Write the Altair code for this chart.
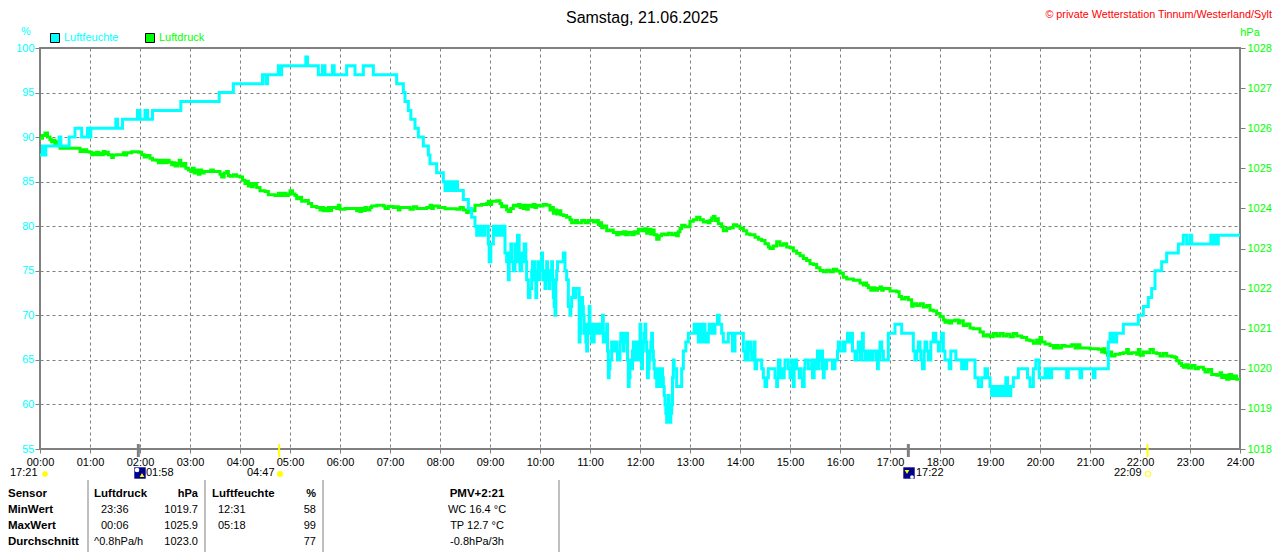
import altair as alt
import pandas as pd

FONT = "Liberation Sans"
CYAN = "#00ffff"
GREEN = "#00ff00"
GRAY = "#808080"

# (minute of day, percent)
humidity_night = [(0,88),(3,89),(5,88),(7,89),(20,89),(23,90),(25,89),(34,89),(35,90),(41,90),(42,91),(48,91),(50,90),(56,90),(57,91),(59,90),(61,91),(90,91),(91,92),(93,91),(98,91),(99,92),(115,92),(117,93),(120,92),(124,92),(126,93),(129,92),(133,92),(135,93),(168,93),(169,94),(214,94),(215,95),(231,95),(232,96),(265,96),(267,97),(270,97),(271,96),(273,97),(285,97),(286,98),(288,97),(290,98),(318,98),(319,99),(321,98),(330,98),(334,97),(337,97),(339,98),(342,97),(349,97),(351,98),(353,97),(366,97),(368,98),(376,98),(378,97),(386,97),(388,98),(398,98),(400,97),(426,97),(428,96),(436,95),(438,94),(442,93),(445,92),(450,91),(454,90),(460,89),(466,88)]
humidity_morning = [(468,87),(476,86),(484,85),(486,84),(487,85),(489,84),(491,85),(493,84),(495,85),(497,84),(499,85),(501,84),(508,83),(514,82),(518,81),(522,80),(524,79),(526,80),(528,79),(530,80),(532,79),(534,80),(536,80),(538,78),(539,76),(541,78),(544,80),(546,79),(548,80),(550,79),(552,80),(554,79),(556,80),(558,77),(560,76),(562,74),(563,77),(565,78),(566,76),(568,75),(570,78),(571,76),(573,79),(575,77),(576,75),(578,77),(580,76),(581,78),(583,76),(584,74),(586,72),(588,73),(590,75),(591,76),(592,74),(593,76),(594,74),(595,72),(596,74),(597,75),(598,76),(599,74),(600,75),(601,76),(602,77),(603,75),(604,74),(605,74),(606,73),(607,75),(608,76),(609,75),(610,74),(611,73),(612,75),(613,74),(614,76),(615,74),(616,72),(617,71),(618,70),(619,74),(620,75),(621,76),(623,76),(626,76),(628,77),(630,75),(632,74),(634,71),(636,70),(637,71),(638,72),(640,73),(642,72),(643,73),(646,73),(647,67),(648,68),(649,70),(650,72),(651,71),(652,70),(653,68),(654,69),(655,67),(656,66),(657,68),(658,69),(659,71),(660,69),(661,68),(662,67),(663,69),(664,67),(665,69),(666,68),(667,69),(669,68),(671,69),(673,68),(675,70),(676,67),(678,68),(680,69),(681,66),(682,63),(683,64),(684,65),(686,67),(688,66),(689,67),(690,66),(691,67),(692,66),(693,65),(694,66),(695,65),(696,67),(697,68),(698,67),(699,68),(700,66),(701,67),(702,68),(703,67),(704,68),(705,65),(706,62),(707,63),(708,64),(709,65),(710,64),(711,66),(712,67),(713,66),(714,65),(715,67),(716,66),(717,67),(718,65),(719,66),(720,69),(721,66),(722,64),(723,66),(724,67),(725,68),(726,69),(727,67),(728,66),(729,63),(730,64),(731,65),(732,66),(733,67),(734,68),(735,66),(736,65),(737,64)]
humidity_noon = [(738,63),(739,64),(740,62),(741,63),(742,64),(743,62),(744,63),(745,62),(746,64),(747,63),(748,62),(749,61),(750,60),(751,59),(752,58),(753,60),(754,61),(755,59),(756,58),(757,59),(758,60),(759,63),(760,65),(761,64),(762,64),(764,62),(768,62),(770,64),(772,66),(775,67),(778,68),(784,68),(785,69),(786,68),(787,69),(788,68),(789,69),(790,67),(791,68),(792,69),(793,67),(794,69),(795,68),(796,67),(797,69),(798,68),(799,67),(800,68),(801,67),(802,68),(803,69),(804,68),(805,69),(806,68),(807,69),(808,68),(810,69),(812,69),(813,70),(815,69),(818,68),(820,67),(824,67),(826,68),(828,68),(831,66),(834,68),(838,68),(842,68),(844,66),(846,65),(847,66),(848,67),(849,65),(850,66),(851,67),(853,66),(854,65),(855,66),(857,67),(858,64),(860,65),(864,65),(866,64),(868,63),(870,62),(872,63),(874,64),(878,64),(880,64),(882,63),(884,62),(885,63),(886,65),(888,64),(889,63),(890,64),(891,63),(893,64),(894,65),(897,65),(898,64),(900,63),(901,64),(902,65),(903,63),(904,62),(905,64),(906,65),(907,65),(908,64),(910,64),(911,63),(912,64),(913,63),(915,62),(917,64),(918,65),(920,65),(922,64),(924,64),(926,65),(927,63),(929,65),(930,64),(931,64),(932,65),(933,66),(934,64),(935,65),(937,66),(939,64),(940,63),(941,65),(942,64),(944,65),(948,65),(951,64),(954,65),(957,66),(958,67),(960,66),(962,66),(964,67),(965,66),(966,67),(968,67),(969,68),(971,67),(973,68),(975,66),(977,66),(978,65)]
humidity_evening = [(980,66),(982,67),(984,65),(986,67),(987,68),(988,66),(990,65),(991,66),(992,65),(993,66),(994,65),(996,66),(997,65),(998,65),(999,66),(1001,66),(1003,65),(1005,64),(1006,66),(1007,65),(1008,67),(1010,66),(1012,65),(1016,65),(1018,68),(1024,68),(1026,69),(1032,69),(1034,68),(1046,68),(1048,66),(1050,65),(1052,66),(1054,67),(1056,66),(1057,65),(1059,64),(1061,66),(1062,67),(1064,66),(1066,65),(1069,67),(1072,68),(1075,67),(1078,66),(1080,67),(1082,68),(1084,66),(1086,65),(1089,65),(1091,64),(1093,66),(1096,66),(1099,65),(1104,65),(1106,64),(1108,65),(1110,64),(1112,65),(1114,65),(1118,65),(1122,63),(1126,62),(1130,63),(1134,64),(1137,63),(1140,62),(1142,61),(1144,62),(1147,61),(1150,62),(1152,61),(1154,62),(1156,61),(1159,63),(1161,62),(1162,61),(1165,62),(1168,63),(1174,64),(1182,64),(1185,63),(1188,62),(1192,64),(1195,65),(1199,63),(1204,63),(1206,64),(1208,63),(1210,64),(1212,63),(1214,64),(1230,64),(1232,63),(1234,64),(1246,64),(1248,63),(1250,64),(1262,64),(1264,63),(1266,64),(1279,64),(1282,67),(1284,68),(1286,67),(1288,68),(1290,67),(1292,68),(1298,68),(1300,69),(1316,69),(1318,70),(1324,71),(1330,72),(1334,73),(1338,75),(1342,75),(1346,76),(1352,77),(1364,77),(1366,78),(1372,79),(1376,78),(1380,79),(1382,78),(1402,78),(1405,79),(1407,78),(1410,79),(1412,78),(1414,79),(1440,79)]

# (minute of day, hPa)
pressure_night = [(0,1025.75),(3,1025.82),(6,1025.88),(9,1025.78),(12,1025.71),(14,1025.66),(16,1025.7),(18,1025.62),(20,1025.66),(22,1025.56),(24,1025.5),(30,1025.5),(40,1025.5),(46,1025.5),(48,1025.42),(50,1025.46),(52,1025.42),(54,1025.46),(56,1025.41),(60,1025.4),(62,1025.34),(64,1025.38),(66,1025.34),(68,1025.4),(70,1025.34),(72,1025.38),(74,1025.34),(76,1025.42),(78,1025.36),(80,1025.4),(82,1025.34),(84,1025.34),(86,1025.27),(88,1025.33),(92,1025.34),(98,1025.34),(100,1025.39),(102,1025.33),(104,1025.39),(110,1025.41),(118,1025.4),(122,1025.34),(125,1025.28),(128,1025.32),(132,1025.25),(135,1025.21),(140,1025.2),(142,1025.14),(144,1025.2),(146,1025.14),(148,1025.2),(150,1025.14),(152,1025.2),(155,1025.15),(158,1025.09),(160,1025.14),(162,1025.06),(165,1025.12),(167,1025.2),(169,1025.06),(172,1025.12),(175,1025.0),(178,1024.96),(181,1024.92),(183,1025.0),(185,1024.88),(187,1024.96),(190,1024.85),(192,1024.96),(194,1024.88),(197,1024.92),(205,1024.96),(208,1024.92),(214,1024.92),(216,1024.85),(218,1024.78),(221,1024.88),(224,1024.92),(226,1024.82),(228,1024.8),(232,1024.84),(236,1024.8),(240,1024.78),(243,1024.7),(246,1024.62),(248,1024.68),(250,1024.56),(252,1024.62),(254,1024.54),(256,1024.6),(258,1024.62),(260,1024.52),(264,1024.44),(270,1024.42),(274,1024.34),(282,1024.32),(286,1024.38),(289,1024.32),(292,1024.38),(295,1024.32),(298,1024.36),(300,1024.44),(303,1024.36),(306,1024.32),(308,1024.24),(311,1024.28),(314,1024.18),(318,1024.2),(322,1024.12),(326,1024.05),(332,1024.02),(336,1023.96),(338,1024.02),(340,1023.94),(342,1024.0),(344,1023.94),(346,1024.02),(348,1023.95),(350,1024.02),(356,1024.0),(358,1024.08),(360,1023.98),(366,1024.0),(378,1024.0),(380,1023.94),(382,1024.0),(384,1023.92),(386,1024.0),(388,1023.95),(390,1024.02),(392,1023.96),(396,1024.02),(398,1024.06),(404,1024.08),(412,1024.06),(414,1024.0),(418,1024.05),(424,1024.02),(428,1024.04),(430,1023.96),(432,1024.02),(440,1024.02),(444,1023.98),(448,1024.04),(452,1024.0),(460,1024.0),(464,1024.02)]
pressure_day = [(468,1024.08),(470,1024.0),(472,1024.06),(478,1024.02),(486,1023.99),(500,1023.98),(504,1024.02),(508,1023.96),(512,1023.9),(514,1023.98),(518,1023.94),(522,1024.08),(530,1024.1),(536,1024.12),(538,1024.18),(540,1024.1),(542,1024.18),(548,1024.19),(552,1024.12),(554,1024.04),(557,1024.06),(560,1023.96),(562,1023.92),(565,1024.0),(568,1024.08),(572,1024.06),(574,1024.1),(576,1024.02),(578,1024.08),(580,1024.0),(582,1024.08),(584,1023.98),(586,1024.08),(590,1024.04),(592,1024.1),(594,1024.02),(596,1024.08),(600,1024.06),(604,1024.1),(608,1024.08),(612,1023.96),(614,1024.02),(616,1023.88),(618,1023.96),(620,1023.86),(622,1023.94),(625,1023.84),(628,1023.82),(632,1023.78),(636,1023.72),(638,1023.64),(642,1023.7),(645,1023.64),(650,1023.7),(654,1023.64),(658,1023.7),(664,1023.66),(668,1023.7),(670,1023.6),(672,1023.64),(674,1023.52),(676,1023.56),(680,1023.44),(684,1023.46),(688,1023.4),(692,1023.34),(694,1023.4),(697,1023.36),(700,1023.42),(703,1023.34),(706,1023.4),(710,1023.34),(713,1023.42),(716,1023.38),(718,1023.48),(722,1023.44),(725,1023.49),(728,1023.38),(730,1023.48),(733,1023.36),(735,1023.46),(737,1023.34),(740,1023.23),(743,1023.32),(746,1023.36),(750,1023.34),(754,1023.38),(758,1023.34),(762,1023.38),(764,1023.32),(766,1023.42),(768,1023.5),(770,1023.58),(774,1023.54),(778,1023.54),(780,1023.68),(784,1023.72),(788,1023.78),(792,1023.72),(796,1023.66),(800,1023.68),(802,1023.64),(804,1023.7),(806,1023.76),(808,1023.8),(810,1023.7),(812,1023.74),(814,1023.62),(818,1023.54),(820,1023.44),(824,1023.5),(828,1023.52),(832,1023.59),(836,1023.56),(840,1023.5),(844,1023.44),(848,1023.36),(852,1023.34),(858,1023.28),(862,1023.23),(866,1023.2),(870,1023.12),(874,1023.04),(876,1023.0),(880,1023.06),(884,1023.17),(888,1023.08),(892,1023.12),(896,1023.04),(900,1023.02),(904,1022.94),(908,1022.88),(912,1022.82),(916,1022.75),(920,1022.7),(924,1022.62),(928,1022.6),(932,1022.52),(936,1022.45),(940,1022.42),(944,1022.46),(948,1022.42),(952,1022.48),(956,1022.44),(960,1022.38),(964,1022.28),(968,1022.24),(976,1022.21)]
pressure_evening = [(980,1022.21),(984,1022.14),(988,1022.09),(990,1022.14),(992,1022.08),(994,1022.02),(997,1021.96),(1000,1022.02),(1002,1021.96),(1005,1022.0),(1008,1022.04),(1010,1021.96),(1012,1022.0),(1020,1021.94),(1028,1021.92),(1031,1021.8),(1034,1021.74),(1038,1021.78),(1042,1021.72),(1046,1021.56),(1048,1021.62),(1052,1021.58),(1056,1021.62),(1060,1021.54),(1064,1021.58),(1068,1021.46),(1072,1021.44),(1076,1021.38),(1080,1021.3),(1084,1021.22),(1086,1021.16),(1088,1021.2),(1091,1021.14),(1094,1021.2),(1098,1021.22),(1102,1021.14),(1104,1021.2),(1108,1021.08),(1112,1021.12),(1116,1021.02),(1120,1021.0),(1124,1021.0),(1128,1020.92),(1132,1020.82),(1136,1020.85),(1140,1020.8),(1144,1020.88),(1148,1020.82),(1152,1020.88),(1156,1020.82),(1160,1020.86),(1164,1020.8),(1168,1020.88),(1172,1020.82),(1178,1020.78),(1184,1020.72),(1188,1020.7),(1192,1020.64),(1196,1020.72),(1198,1020.64),(1200,1020.78),(1202,1020.67),(1206,1020.62),(1212,1020.58),(1216,1020.52),(1219,1020.58),(1222,1020.52),(1226,1020.58),(1230,1020.56),(1238,1020.6),(1242,1020.52),(1245,1020.6),(1248,1020.52),(1252,1020.52),(1260,1020.5),(1270,1020.49),(1274,1020.42),(1276,1020.5),(1278,1020.4),(1281,1020.34),(1284,1020.42),(1286,1020.32),(1290,1020.36),(1296,1020.38),(1300,1020.4),(1304,1020.48),(1306,1020.38),(1310,1020.4),(1316,1020.36),(1318,1020.48),(1320,1020.34),(1324,1020.42),(1328,1020.4),(1332,1020.48),(1336,1020.4),(1340,1020.38),(1344,1020.32),(1348,1020.38),(1352,1020.32),(1358,1020.3),(1362,1020.28),(1364,1020.2),(1367,1020.14),(1370,1020.08),(1372,1020.04),(1375,1020.1),(1378,1020.02),(1382,1020.08),(1386,1020.0),(1390,1020.04),(1396,1019.99),(1398,1019.92),(1402,1019.98),(1406,1019.86),(1412,1019.84),(1416,1019.9),(1418,1019.78),(1421,1019.84),(1424,1019.74),(1427,1019.86),(1430,1019.76),(1433,1019.82),(1436,1019.74),(1440,1019.72)]

event_labels = [("17:21", 10), ("01:58", 146), ("04:47", 247), ("17:22", 916), ("22:09", 1114)]
sun_events = [287, 1329]
twilight_events = [118, 1042]

legend_items = ["Luftfeuchte", "Luftdruck"]
title_text = "Samstag, 21.06.2025"
credit_text = "\u00a9 private Wetterstation Tinnum/Westerland/Sylt"
sensor_col = ["Sensor", "MinWert", "MaxWert", "Durchschnitt"]
druck_left = ["Luftdruck", "23:36", "00:06", "^0.8hPa/h"]
druck_right = ["hPa", "1019.7", "1025.9", "1023.0"]
feuchte_left = ["Luftfeuchte", "12:31", "05:18", ""]
feuchte_right = ["%", "58", "99", "77"]
pmv_col = ["PMV+2:21", "WC 16.4 \u00b0C", "TP 12.7 \u00b0C", "-0.8hPa/3h"]


def frame(seg, name):
    return pd.DataFrame(seg, columns=["minute", name])


hum = frame(humidity_night + humidity_morning + humidity_noon + humidity_evening, "hum")
pres = frame(pressure_night + pressure_day + pressure_evening, "pres")

x_scale = alt.Scale(domain=[0, 1440], nice=False, zero=False)
x_axis = alt.Axis(
    values=list(range(0, 1441, 60)),
    labelExpr="(floor(datum.value/60)<10?'0':'')+floor(datum.value/60)+':00'",
    title=None, grid=True, gridColor=GRAY, gridDash=[3, 3], gridWidth=1,
    domain=False, tickColor=GRAY, tickSize=4, labelColor="#000000", labelFont=FONT,
    labelFontSize=11, labelPadding=3, labelFlush=False, labelOverlap=False,
)

line_pres = alt.Chart(pres).mark_line(interpolate="step-after", stroke=GREEN, strokeWidth=3, clip=True).encode(
    x=alt.X("minute:Q", scale=x_scale, axis=x_axis),
    y=alt.Y("pres:Q", scale=alt.Scale(domain=[1018, 1028], nice=False, zero=False),
            axis=alt.Axis(orient="right", values=list(range(1018, 1029)), format="d", title=None, grid=False,
                          domain=False, tickColor=GRAY, tickSize=5, labelColor=GREEN,
                          labelFont=FONT, labelFontSize=11, labelPadding=2, labelFlush=False)),
)
line_hum = alt.Chart(hum).mark_line(interpolate="step-after", stroke=CYAN, strokeWidth=3, clip=True).encode(
    x=alt.X("minute:Q", scale=x_scale, axis=x_axis),
    y=alt.Y("hum:Q", scale=alt.Scale(domain=[55, 100], nice=False, zero=False),
            axis=alt.Axis(orient="left", values=list(range(55, 101, 5)), title=None, grid=True, gridColor=GRAY,
                          gridDash=[3, 3], gridWidth=1, domain=False, tickColor=GRAY, tickSize=5,
                          labelColor=CYAN, labelFont=FONT, labelFontSize=11, labelPadding=1, labelFlush=False)),
)


def txt(s, x, y, color="#000000", align="left", bold=False, size=10.5):
    # x, y are given in page pixels; the plot area starts at (40, 48)
    return alt.Chart(alt.Data(values=[{"t": s}])).mark_text(
        align=align, baseline="middle", font=FONT, fontSize=size, color=color,
        fontWeight="bold" if bold else "normal",
    ).encode(x=alt.value(x - 40), y=alt.value(y - 48), text="t:N")


def icon(x, y, shape, color, size, filled=True):
    kw = dict(shape=shape, color=color, size=size, filled=filled, opacity=1)
    if not filled:
        kw["strokeWidth"] = 1
    return alt.Chart(alt.Data(values=[{"a": 1}])).mark_point(**kw).encode(
        x=alt.value(x - 40), y=alt.value(y - 48))


def vbar(x, y1=480, y2=552, color=GRAY, w=1):
    return alt.Chart(alt.Data(values=[{"a": 1}])).mark_rule(color=color, strokeWidth=w).encode(
        x=alt.value(x - 40), y=alt.value(y1 - 48), y2=alt.value(y2 - 48))


def event_rule(minutes, color, w):
    return alt.Chart(pd.DataFrame({"minute": minutes})).mark_rule(color=color, strokeWidth=w, clip=False).encode(
        x=alt.X("minute:Q", scale=x_scale, axis=x_axis), y=alt.value(444 - 48), y2=alt.value(457 - 48))


def swatch(x, color):
    return alt.Chart(alt.Data(values=[{"a": 1}])).mark_point(
        shape="square", filled=True, color=color, stroke="#000000", strokeWidth=1, size=81, opacity=1
    ).encode(x=alt.value(x - 40), y=alt.value(38 - 48))


extras = [
    event_rule(sun_events, "#ffff00", 2),
    event_rule(twilight_events, GRAY, 3),
    txt(title_text, 642, 18, align="center", size=16),
    txt(credit_text, 1272, 15, color="#ff0000", align="right", size=10.8),
    txt("%", 26, 32, color=CYAN, align="center"),
    txt("hPa", 1250, 33, color=GREEN, align="center", size=11),
    swatch(55, CYAN),
    swatch(150, GREEN),
    txt(legend_items[0], 64, 38, color=CYAN, size=11),
    txt(legend_items[1], 159, 38, color=GREEN, size=11),
    vbar(88), vbar(205), vbar(323), vbar(559),
    icon(45, 474, "circle", "#ffff00", 30),
    icon(140, 473, "square", "#00008b", 130),
    icon(137, 470, "circle", "#ffffff", 22),
    icon(142, 475, "triangle-up", "#ffff00", 22),
    icon(280, 474, "circle", "#ffff00", 36),
    icon(909, 473, "square", "#00008b", 130),
    icon(907, 472, "triangle-down", "#ffff00", 22),
    icon(912, 477, "circle", "#ffffff", 14),
    icon(1148, 474, "square", "#ffff00", 20, filled=False),
]
for s, xx in event_labels:
    extras.append(txt(s, xx, 473, size=11))

rows = [494, 510, 526, 542]
for i, y in enumerate(rows):
    head = i == 0
    extras.append(txt(sensor_col[i], 8, y, bold=True, size=11.5))
    extras.append(txt(druck_left[i], 94 if head or i == 3 else 101, y, bold=head, size=11.5 if head else 11))
    extras.append(txt(druck_right[i], 198, y, align="right", bold=head, size=11))
    if feuchte_left[i]:
        extras.append(txt(feuchte_left[i], 212 if head else 218, y, bold=head, size=11.5 if head else 11))
    extras.append(txt(feuchte_right[i], 316, y, align="right", bold=head, size=11))
    extras.append(txt(pmv_col[i], 477, y, align="center", bold=head, size=11.5 if head else 11))

chart = alt.layer(line_pres, line_hum, *extras).resolve_scale(y="independent").properties(
    width=1200, height=401,
    padding={"left": 32, "top": 40, "right": 32, "bottom": 103},
    autosize=alt.AutoSizeParams(type="none"),
    background="#ffffff",
).configure_view(stroke=GRAY, strokeWidth=2)

chart.save("out.html", embed_options={"renderer": "svg", "actions": False})
